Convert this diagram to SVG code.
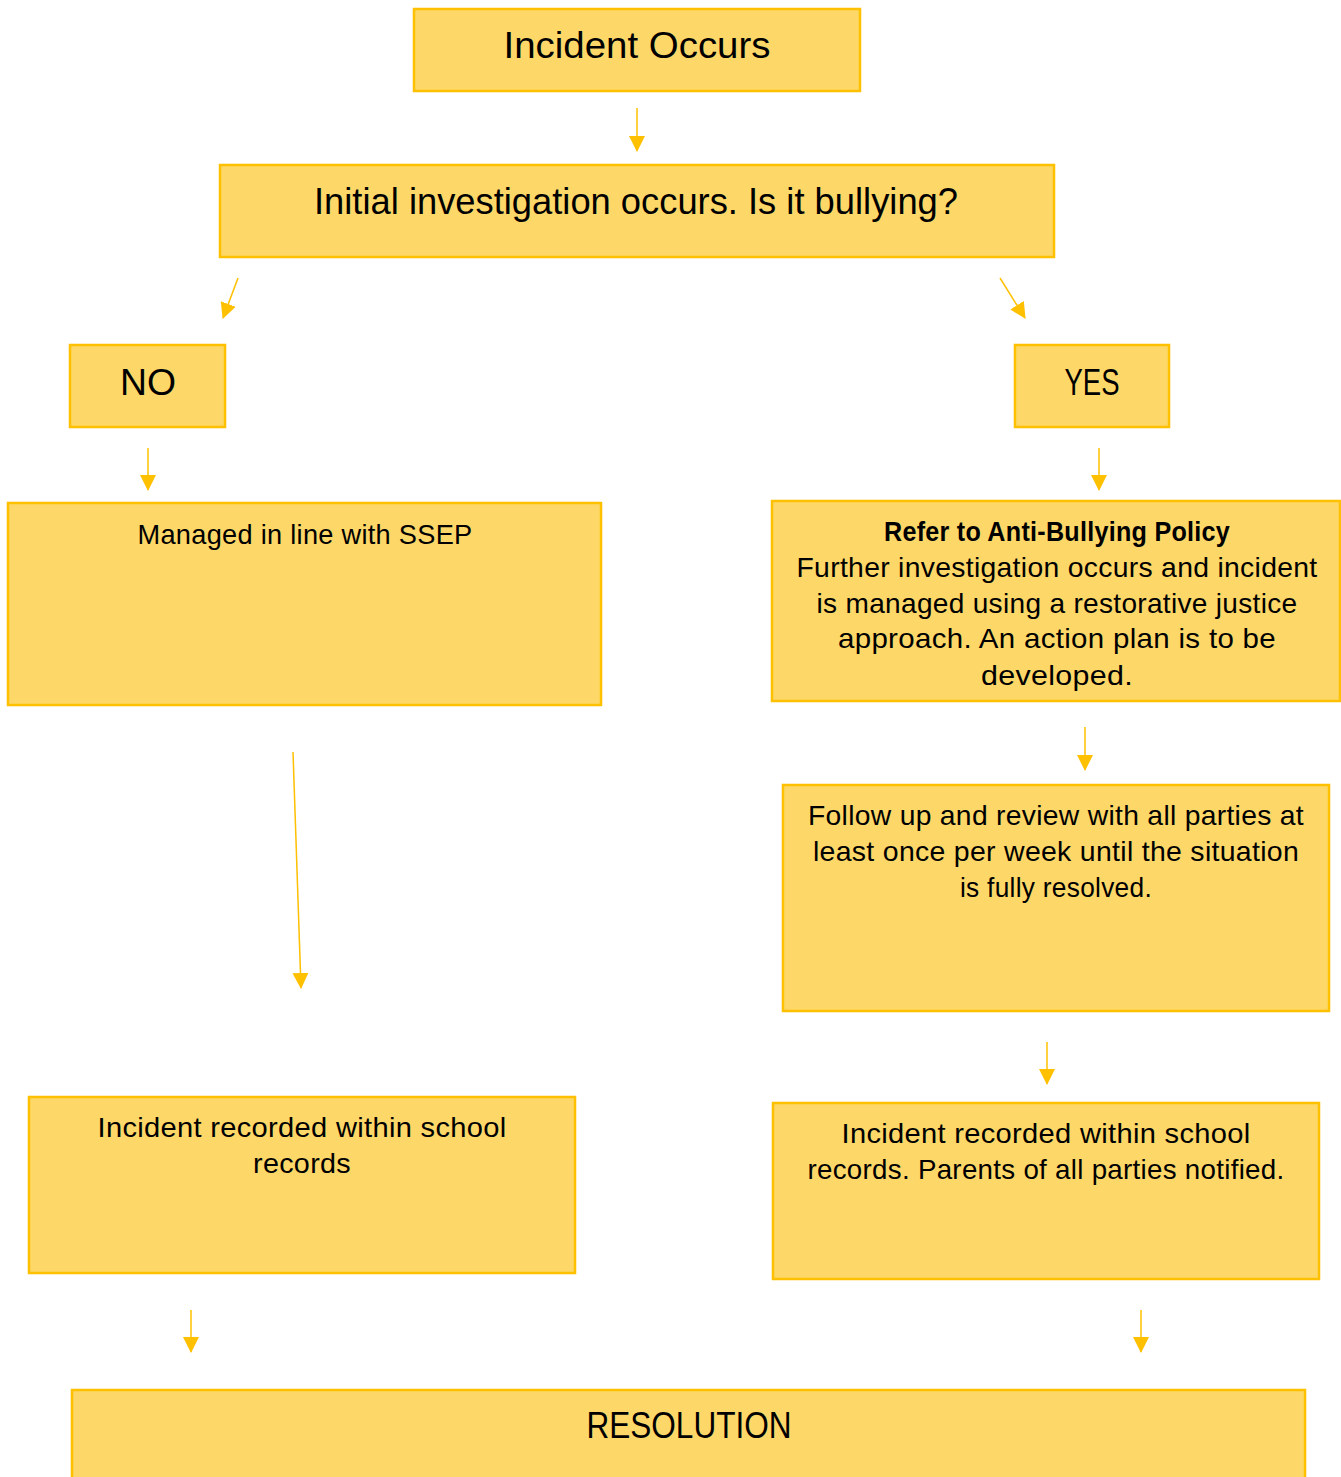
<svg xmlns="http://www.w3.org/2000/svg" width="1341" height="1477" viewBox="0 0 1341 1477">
<style>
.box{fill:#FDD868;stroke:#FFC000;stroke-width:2.5}
.t{font-family:"Liberation Sans",Arial,sans-serif;fill:#000;text-anchor:middle}
.big{font-size:36px}
.med{font-size:28px;letter-spacing:0.3px}
.conn{stroke:#FFC000;stroke-width:1.5;fill:none;marker-end:url(#ah)}
</style>
<defs>
<marker id="ah" markerUnits="userSpaceOnUse" markerWidth="18" markerHeight="18" refX="15" refY="8" orient="auto">
<path d="M0,0 L16,8 L0,16 z" fill="#FFC000"/>
</marker>
</defs>
<rect width="1341" height="1477" fill="#fff"/>
<g id="n-incident"><rect class="box" x="414" y="9" width="446" height="82"/><text class="t big" x="637" y="58" textLength="267" lengthAdjust="spacingAndGlyphs">Incident Occurs</text></g>
<g id="n-initial"><rect class="box" x="220" y="165" width="834" height="92"/><text class="t big" x="636" y="214" textLength="644" lengthAdjust="spacingAndGlyphs">Initial investigation occurs. Is it bullying?</text></g>
<g id="n-no"><rect class="box" x="70" y="345" width="155" height="82"/><text class="t big" x="148" y="395" textLength="56" lengthAdjust="spacingAndGlyphs">NO</text></g>
<g id="n-yes"><rect class="box" x="1015" y="345" width="154" height="82"/><text class="t big" x="1092" y="395" textLength="55" lengthAdjust="spacingAndGlyphs">YES</text></g>
<g id="n-ssep"><rect class="box" x="8" y="503" width="593" height="202"/><text class="t med" x="305" y="544" textLength="335" lengthAdjust="spacingAndGlyphs">Managed in line with SSEP</text></g>
<g id="n-anti"><rect class="box" x="772" y="501" width="568" height="200"/>
<text class="t med" x="1057" y="541" font-weight="bold" textLength="346" lengthAdjust="spacingAndGlyphs">Refer to Anti-Bullying Policy</text>
<text class="t med" x="1057" y="577" textLength="521" lengthAdjust="spacingAndGlyphs">Further investigation occurs and incident</text>
<text class="t med" x="1057" y="613" textLength="481" lengthAdjust="spacingAndGlyphs">is managed using a restorative justice</text>
<text class="t med" x="1057" y="648" textLength="438" lengthAdjust="spacingAndGlyphs">approach. An action plan is to be</text>
<text class="t med" x="1057" y="685" textLength="152" lengthAdjust="spacingAndGlyphs">developed.</text></g>
<g id="n-follow"><rect class="box" x="783" y="785" width="546" height="226"/>
<text class="t med" x="1056" y="825" textLength="496" lengthAdjust="spacingAndGlyphs">Follow up and review with all parties at</text>
<text class="t med" x="1056" y="861" textLength="486" lengthAdjust="spacingAndGlyphs">least once per week until the situation</text>
<text class="t med" x="1056" y="897" textLength="192" lengthAdjust="spacingAndGlyphs">is fully resolved.</text></g>
<g id="n-rec-left"><rect class="box" x="29" y="1097" width="546" height="176"/>
<text class="t med" x="302" y="1137" textLength="409" lengthAdjust="spacingAndGlyphs">Incident recorded within school</text>
<text class="t med" x="302" y="1173" textLength="98" lengthAdjust="spacingAndGlyphs">records</text></g>
<g id="n-rec-right"><rect class="box" x="773" y="1103" width="546" height="176"/>
<text class="t med" x="1046" y="1143" textLength="409" lengthAdjust="spacingAndGlyphs">Incident recorded within school</text>
<text class="t med" x="1046" y="1179" textLength="477" lengthAdjust="spacingAndGlyphs">records. Parents of all parties notified.</text></g>
<g id="n-resolution"><rect class="box" x="72" y="1390" width="1233" height="100"/><text class="t big" x="689" y="1438" textLength="205" lengthAdjust="spacingAndGlyphs">RESOLUTION</text></g>
<g id="connectors">
<line class="conn" x1="637" y1="108" x2="637" y2="151"/>
<line class="conn" x1="238" y1="278" x2="223" y2="318"/>
<line class="conn" x1="1000" y1="278" x2="1025" y2="318"/>
<line class="conn" x1="148" y1="448" x2="148" y2="490"/>
<line class="conn" x1="1099" y1="448" x2="1099" y2="490"/>
<line class="conn" x1="1085" y1="727" x2="1085" y2="770"/>
<line class="conn" x1="293" y1="752" x2="301" y2="988"/>
<line class="conn" x1="1047" y1="1042" x2="1047" y2="1084"/>
<line class="conn" x1="191" y1="1310" x2="191" y2="1352"/>
<line class="conn" x1="1141" y1="1310" x2="1141" y2="1352"/>
</g>
</svg>
